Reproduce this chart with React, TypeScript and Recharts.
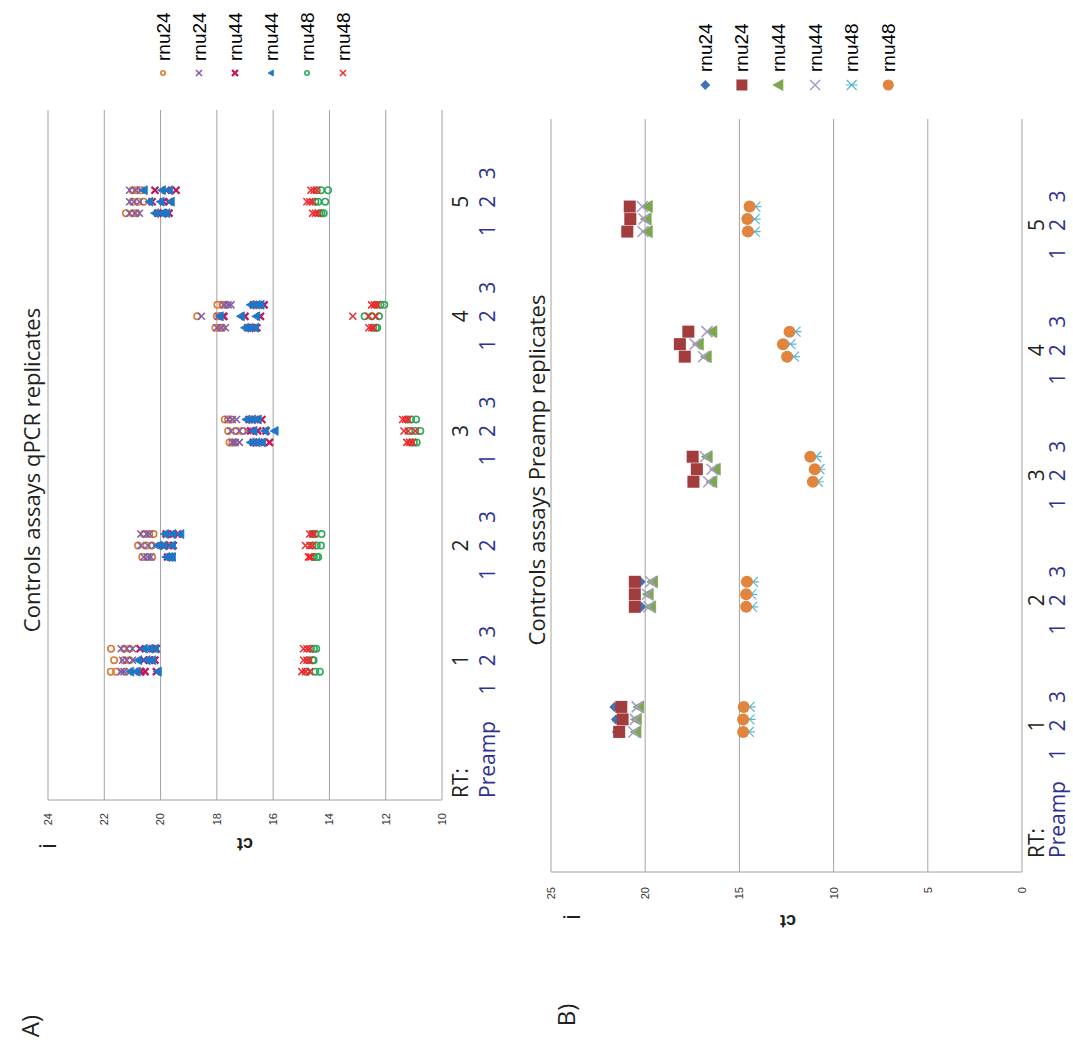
import React from 'react';
import { ScatterChart, Scatter, XAxis, YAxis, CartesianGrid, Legend } from 'recharts';

const GROUPS = [1, 2, 3, 4, 5];
const REP_OFFSETS = [-0.1, 0, 0.1];
const REP_LABELS = ['1', '2', '3'];
const X_DOMAIN: [number, number] = [-0.22, 5.8];
const X_TICKS = [-0.22, 1, 2, 3, 4, 5];

const CT_TICKS_A = [10, 12, 14, 16, 18, 20, 22, 24];
const CT_TICKS_B = [0, 5, 10, 15, 20, 25];

// qPCR replicates: [group][preamp replicate][qPCR triplicate]
const qpcrRnu24Circle = [
  [[21.77, 21.58, 21.25], [21.65, 21.3, 21.1], [21.76, 21.3, 21.1]],
  [[20.65, 20.45, 20.3], [20.8, 20.5, 20.3], [20.6, 20.4, 20.25]],
  [[17.55, 17.45, 17.35], [17.6, 17.3, 17.1], [17.72, 17.6, 17.5]],
  [[18.05, 17.9, 17.8], [18.7, 18.0, 17.9], [17.98, 17.8, 17.66]],
  [[21.23, 21.0, 20.85], [21.0, 20.8, 20.6], [21.0, 20.85, 20.7]],
];
const qpcrRnu24Cross = [
  [[21.4, 21.3, 20.95], [21.35, 21.2, 21.0], [21.4, 21.2, 21.0]],
  [[20.6, 20.45, 20.35], [20.7, 20.45, 20.2], [20.7, 20.5, 20.4]],
  [[17.45, 17.35, 17.2], [17.5, 17.2, 16.9], [17.6, 17.45, 17.3]],
  [[18.0, 17.85, 17.7], [18.55, 17.95, 17.8], [17.75, 17.6, 17.5]],
  [[21.1, 20.9, 20.75], [21.1, 20.95, 20.75], [21.1, 20.9, 20.7]],
];
const qpcrRnu44Cross = [
  [[20.7, 20.55, 20.15], [20.6, 20.4, 20.2], [20.73, 20.3, 20.15]],
  [[19.75, 19.65, 19.6], [19.85, 19.7, 19.55], [19.8, 19.55, 19.4]],
  [[16.7, 16.5, 16.13], [16.8, 16.55, 16.25], [16.85, 16.65, 16.4]],
  [[16.9, 16.75, 16.58], [17.75, 17.0, 16.45], [16.7, 16.5, 16.32]],
  [[20.1, 19.9, 19.7], [20.3, 19.9, 19.7], [20.2, 19.8, 19.45]],
];
const qpcrRnu44Triangle = [
  [[21.08, 20.85, 20.1], [20.8, 20.5, 20.3], [20.6, 20.4, 20.2]],
  [[19.8, 19.7, 19.6], [20.1, 19.9, 19.6], [19.85, 19.6, 19.3]],
  [[16.8, 16.6, 16.4], [16.7, 16.3, 15.95], [16.95, 16.75, 16.55]],
  [[17.0, 16.85, 16.65], [17.9, 17.15, 16.6], [16.8, 16.6, 16.45]],
  [[20.2, 19.95, 19.8], [20.4, 20.0, 19.64], [20.6, 19.95, 19.7]],
];
const qpcrRnu48Circle = [
  [[14.8, 14.5, 14.34], [14.75, 14.6, 14.56], [14.66, 14.55, 14.47]],
  [[14.55, 14.45, 14.4], [14.6, 14.45, 14.3], [14.6, 14.5, 14.28]],
  [[11.1, 11.0, 10.9], [11.15, 10.95, 10.77], [11.25, 11.1, 10.92]],
  [[12.45, 12.35, 12.3], [12.75, 12.5, 12.24], [12.35, 12.18, 12.05]],
  [[14.35, 14.28, 14.2], [14.5, 14.4, 14.15], [14.45, 14.3, 14.05]],
];
const qpcrRnu48Cross = [
  [[14.98, 14.85, 14.7], [14.92, 14.8, 14.7], [14.92, 14.8, 14.7]],
  [[14.75, 14.7, 14.65], [14.85, 14.7, 14.6], [14.7, 14.6, 14.55]],
  [[11.25, 11.15, 11.05], [11.35, 11.2, 10.95], [11.4, 11.3, 11.2]],
  [[12.6, 12.5, 12.43], [13.17, 12.6, 12.35], [12.5, 12.4, 12.3]],
  [[14.6, 14.5, 14.4], [14.8, 14.7, 14.6], [14.66, 14.55, 14.45]],
];

// Preamp replicates: [group][preamp replicate]
const preampRnu24Diamond = [[21.5, 21.56, 21.64], [20.2, 20.5, 20.24], [17.5, 17.3, 17.5], [17.95, 18.2, 17.75], [21.0, 20.85, 20.85]];
const preampRnu24Square = [[21.38, 21.2, 21.27], [20.55, 20.55, 20.55], [17.44, 17.26, 17.48], [17.9, 18.16, 17.71], [20.95, 20.79, 20.82]];
const preampRnu44Triangle = [[20.48, 20.46, 20.33], [19.7, 19.83, 19.6], [16.45, 16.27, 16.7], [16.75, 17.17, 16.45], [19.88, 19.94, 19.88]];
const preampRnu44Cross = [[20.6, 20.52, 20.43], [19.8, 19.88, 19.7], [16.63, 16.45, 16.8], [16.9, 17.35, 16.72], [20.12, 20.06, 20.15]];
const preampRnu48Star = [[14.5, 14.46, 14.46], [14.33, 14.37, 14.28], [10.84, 10.75, 10.93], [12.1, 12.29, 12.02], [14.19, 14.19, 14.15]];
const preampRnu48Circle = [[14.8, 14.8, 14.77], [14.64, 14.64, 14.6], [11.1, 11.0, 11.24], [12.47, 12.69, 12.34], [14.55, 14.58, 14.46]];

const SANS = '"Open Sans", "Noto Sans", sans-serif';
const ARIAL = '"Liberation Sans", Arial, sans-serif';
const GRID = '#a3a3a3';
const INK = '#231f20';
const BLUE_LABEL = '#2e3192';

type Pt = { x: number; y: number };

const triplicatePoints = (values: number[][][]): Pt[] => {
  const pts: Pt[] = [];
  values.forEach((group, g) =>
    group.forEach((rep, r) => rep.forEach((ct) => pts.push({ x: GROUPS[g] + REP_OFFSETS[r], y: ct })))
  );
  return pts;
};

const replicatePoints = (values: number[][]): Pt[] => {
  const pts: Pt[] = [];
  values.forEach((group, g) => group.forEach((ct, r) => pts.push({ x: GROUPS[g] + REP_OFFSETS[r], y: ct })));
  return pts;
};

function drawMarker(kind: string, cx: number, cy: number, size: number, color: string) {
  const s = size / 2;
  switch (kind) {
    case 'circle':
      return <circle cx={cx} cy={cy} r={s - 0.8} fill="none" stroke={color} strokeWidth={1.6} />;
    case 'dot':
      return <circle cx={cx} cy={cy} r={s} fill={color} />;
    case 'x':
    case 'xBold':
      return (
        <path
          d={`M${cx - s},${cy - s}L${cx + s},${cy + s}M${cx - s},${cy + s}L${cx + s},${cy - s}`}
          stroke={color}
          strokeWidth={kind === 'xBold' ? 2.3 : 1.5}
          fill="none"
        />
      );
    case 'triangle':
      return <path d={`M${cx},${cy - s}L${cx + s},${cy + s * 0.8}L${cx - s},${cy + s * 0.8}Z`} fill={color} stroke={color} strokeWidth={0.8} />;
    case 'diamond':
      return <path d={`M${cx},${cy - s}L${cx + s},${cy}L${cx},${cy + s}L${cx - s},${cy}Z`} fill={color} />;
    case 'square':
      return <rect x={cx - s} y={cy - s} width={size} height={size} fill={color} />;
    case 'star':
      return (
        <path
          d={`M${cx - s},${cy - s}L${cx + s},${cy + s}M${cx - s},${cy + s}L${cx + s},${cy - s}M${cx},${cy - s * 1.2}L${cx},${cy + s * 1.2}`}
          stroke={color}
          strokeWidth={1.2}
          fill="none"
        />
      );
    default:
      return <circle cx={cx} cy={cy} r={s} fill={color} />;
  }
}

type SeriesDef = { name: string; points: Pt[]; marker: string; color: string; size: number; legendSize: number };

const SERIES_A: SeriesDef[] = [
  { name: 'rnu24', points: triplicatePoints(qpcrRnu24Circle), marker: 'circle', color: '#dc7a36', size: 8, legendSize: 6 },
  { name: 'rnu24', points: triplicatePoints(qpcrRnu24Cross), marker: 'x', color: '#7f5cab', size: 7, legendSize: 6 },
  { name: 'rnu44', points: triplicatePoints(qpcrRnu44Cross), marker: 'xBold', color: '#c2185b', size: 7, legendSize: 6 },
  { name: 'rnu44', points: triplicatePoints(qpcrRnu44Triangle), marker: 'triangle', color: '#1c78c6', size: 9, legendSize: 6 },
  { name: 'rnu48', points: triplicatePoints(qpcrRnu48Circle), marker: 'circle', color: '#2daa5b', size: 8, legendSize: 6 },
  { name: 'rnu48', points: triplicatePoints(qpcrRnu48Cross), marker: 'x', color: '#f2262b', size: 7, legendSize: 6 },
];

const SERIES_B: SeriesDef[] = [
  { name: 'rnu24', points: replicatePoints(preampRnu24Diamond), marker: 'diamond', color: '#3f74b5', size: 10, legendSize: 10 },
  { name: 'rnu24', points: replicatePoints(preampRnu24Square), marker: 'square', color: '#a23c3d', size: 12, legendSize: 11 },
  { name: 'rnu44', points: replicatePoints(preampRnu44Triangle), marker: 'triangle', color: '#7da74e', size: 12, legendSize: 11 },
  { name: 'rnu44', points: replicatePoints(preampRnu44Cross), marker: 'x', color: '#a69bc9', size: 11, legendSize: 10 },
  { name: 'rnu48', points: replicatePoints(preampRnu48Star), marker: 'star', color: '#58b8d0', size: 10, legendSize: 10 },
  { name: 'rnu48', points: replicatePoints(preampRnu48Circle), marker: 'dot', color: '#e0843e', size: 12, legendSize: 11 },
];

const LegendBlock = ({ series, spacing, gap }: { series: SeriesDef[]; spacing: number; gap: number }) => (
  <svg width={90} height={spacing * series.length} style={{ display: 'block', overflow: 'visible' }}>
    {series.map((s, i) => {
      const cy = spacing / 2 + i * spacing;
      return (
        <g key={i}>
          {drawMarker(s.marker, 10, cy, s.legendSize, s.color)}
          <text x={10 + gap} y={cy} dominantBaseline="central" fontFamily={ARIAL} fontSize={19} fill="#000">
            {s.name}
          </text>
        </g>
      );
    })}
  </svg>
);

// group number on the first line, replicate numbers underneath; "RT:/Preamp" sits at the axis start
const categoryTick = (line1: number, line2: number, shift: number, rtDx: number) => (props: any) => {
  const { x, y, payload } = props;
  if (payload.value < 0.5) {
    return (
      <g fontFamily={SANS} fontSize={21}>
        <text x={x + rtDx} y={y + line1} textAnchor="start" dominantBaseline="central" fill={INK}>RT:</text>
        <text x={x + rtDx} y={y + line2} textAnchor="start" dominantBaseline="central" fill={BLUE_LABEL}>Preamp</text>
      </g>
    );
  }
  return (
    <g fontFamily={SANS} fontSize={21}>
      <text x={x + shift} y={y + line1} textAnchor="middle" dominantBaseline="central" fill={INK}>{payload.value}</text>
      {REP_LABELS.map((r, i) => (
        <text key={r} x={x + shift + (i - 1) * 28.5} y={y + line2} textAnchor="middle" dominantBaseline="central" fill={BLUE_LABEL}>
          {r}
        </text>
      ))}
    </g>
  );
};

const Note = ({ x, y, size, text, rotate = 0, weight = 400, family = SANS }: any) => (
  <div
    style={{
      position: 'absolute',
      left: x,
      top: y,
      transform: `translate(-50%, -50%) rotate(${rotate}deg)`,
      fontSize: size,
      fontWeight: weight,
      fontFamily: family,
      color: INK,
      whiteSpace: 'nowrap',
      lineHeight: 1,
    }}
  >
    {text}
  </div>
);

type PanelProps = {
  width: number;
  height: number;
  margin: { top: number; right: number; bottom: number; left: number };
  yAxisWidth: number;
  xAxisHeight: number;
  yDomain: [number, number];
  yTicks: number[];
  tickMargin: number;
  series: SeriesDef[];
  legendLeft: number;
  legendTop: number;
  legendSpacing: number;
  legendGap: number;
  tick: (p: any) => React.ReactElement;
  children?: React.ReactNode;
};

// charts are laid out upright and then turned a quarter turn counter-clockwise
function Panel(p: PanelProps) {
  return (
    <div
      style={{
        position: 'absolute',
        left: 0,
        top: 0,
        width: p.width,
        height: p.height,
        transform: 'rotate(-90deg) translateX(-100%)',
        transformOrigin: 'top left',
      }}
    >
      <ScatterChart width={p.width} height={p.height} margin={p.margin}>
        <CartesianGrid vertical={false} stroke={GRID} strokeWidth={1} />
        <XAxis
          type="number"
          dataKey="x"
          domain={X_DOMAIN}
          ticks={X_TICKS}
          allowDataOverflow
          interval={0}
          axisLine={false}
          tickLine={false}
          tickSize={0}
          tickMargin={0}
          height={p.xAxisHeight}
          tick={p.tick}
        />
        <YAxis
          type="number"
          dataKey="y"
          domain={p.yDomain}
          ticks={p.yTicks}
          allowDataOverflow
          interval={0}
          width={p.yAxisWidth}
          axisLine={{ stroke: GRID }}
          tickLine={false}
          tickSize={0}
          tickMargin={p.tickMargin}
          tick={{ fontSize: 11, fill: '#333', fontFamily: ARIAL }}
        />
        <Legend
          layout="horizontal"
          verticalAlign="middle"
          align="center"
          wrapperStyle={{ left: p.legendLeft, top: p.legendTop, width: 90 }}
          content={() => <LegendBlock series={p.series} spacing={p.legendSpacing} gap={p.legendGap} />}
        />
        {p.series.map((s, i) => (
          <Scatter
            key={i}
            name={s.name}
            data={s.points}
            isAnimationActive={false}
            shape={(sp: any) => drawMarker(s.marker, sp.cx, sp.cy, s.size, s.color)}
          />
        ))}
      </ScatterChart>
      {p.children}
    </div>
  );
}

export default function App() {
  return (
    <div style={{ position: 'absolute', left: 0, top: 0, width: 1073, height: 1044, background: '#fff', overflow: 'hidden' }}>
      <div style={{ position: 'absolute', left: 0, top: 0, width: 515, height: 1044 }}>
        <Panel
          width={1044}
          height={515}
          margin={{ top: 48, right: 110, bottom: 0, left: 0 }}
          yAxisWidth={244}
          xAxisHeight={73}
          yDomain={[10, 24]}
          yTicks={CT_TICKS_A}
          tickMargin={13}
          series={SERIES_A}
          legendLeft={961}
          legendTop={145}
          legendSpacing={36}
          legendGap={12}
          tick={categoryTick(18, 45, 0, 2)}
        >
          <Note x={574} y={31} size={22} text="Controls assays qPCR replicates" />
          <Note x={18} y={30} size={24} text="A)" />
          <Note x={198} y={47} size={24} text="i" />
          <Note x={200} y={245} size={18} weight={700} family={ARIAL} rotate={-90} text="ct" />
        </Panel>
      </div>
      <div style={{ position: 'absolute', left: 515, top: 0, width: 558, height: 1044 }}>
        <Panel
          width={1044}
          height={558}
          margin={{ top: 36, right: 119, bottom: 0, left: 0 }}
          yAxisWidth={172}
          xAxisHeight={51}
          yDomain={[0, 25]}
          yTicks={CT_TICKS_B}
          tickMargin={15}
          series={SERIES_B}
          legendLeft={949}
          legendTop={172}
          legendSpacing={36.6}
          legendGap={13}
          tick={categoryTick(14, 35, -6, 14)}
        >
          <Note x={574} y={21} size={22} text="Controls assays Preamp replicates" />
          <Note x={29} y={51} size={24} text="B)" />
          <Note x={127} y={56} size={24} text="i" />
          <Note x={123} y={273} size={18} weight={700} family={ARIAL} rotate={-90} text="ct" />
        </Panel>
      </div>
    </div>
  );
}
